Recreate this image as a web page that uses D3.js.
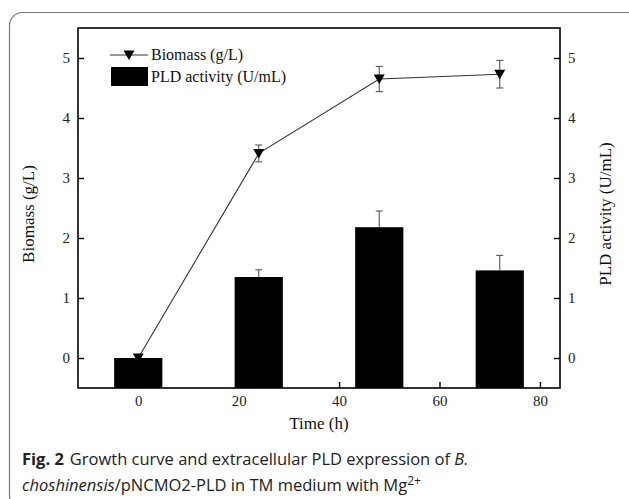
<!DOCTYPE html>
<html>
<head>
<meta charset="utf-8">
<script src="https://cdn.jsdelivr.net/npm/d3@7"></script>
<style>
  body { margin: 0; background: #fff; }
  svg { display: block; }
  .tick text { font-family: "Liberation Serif", "Times New Roman", serif; font-size: 15px; fill: #222; }
</style>
</head>
<body>
<div id="svg-container"></div>
<script>
// data
const times = [0, 24, 48, 72];
const biomass = [0, 3.41, 4.65, 4.73];
const biomassErr = [0, 0.14, 0.21, 0.23];
const pld = [0, 1.35, 2.18, 1.46];
const pldErr = [0, 0.12, 0.27, 0.25];
const xTicks = [0, 20, 40, 60, 80];
const yTicks = [0, 1, 2, 3, 4, 5];

const width = 629, height = 499;
const margin = { top: 28, right: 69, bottom: 111, left: 78 };
const serif = "'Liberation Serif', 'Times New Roman', serif";

const svg = d3.select("#svg-container").append("svg")
  .attr("width", width).attr("height", height);

// card border
svg.append("rect")
  .attr("x", 9.5).attr("y", 12.5)
  .attr("width", 632).attr("height", 496).attr("rx", 13)
  .attr("fill", "none").attr("stroke", "#777").attr("stroke-width", 1.2);

// scales
const x = d3.scaleLinear().domain([-12, 84]).range([margin.left, width - margin.right]);
const y = d3.scaleLinear().domain([-0.5, 5.5]).range([height - margin.bottom, margin.top]);

const data = times.map((t, i) => ({ t, b: biomass[i], be: biomassErr[i], p: pld[i], pe: pldErr[i] }));

// bars
const barHalf = 4.8;
svg.append("g").selectAll("rect").data(data).join("rect")
  .attr("x", d => x(d.t - barHalf))
  .attr("width", d => x(d.t + barHalf) - x(d.t - barHalf))
  .attr("y", d => y(d.p))
  .attr("height", d => y(-0.5) - y(d.p))
  .attr("fill", "#000");

// bar error bars (upward)
const capW = 3.5;
const barErr = svg.append("g").attr("stroke", "#555").attr("stroke-width", 1.1);
data.filter(d => d.pe > 0).forEach(d => {
  barErr.append("line").attr("x1", x(d.t)).attr("x2", x(d.t)).attr("y1", y(d.p)).attr("y2", y(d.p + d.pe));
  barErr.append("line").attr("x1", x(d.t) - capW).attr("x2", x(d.t) + capW).attr("y1", y(d.p + d.pe)).attr("y2", y(d.p + d.pe));
});

// biomass line
const line = d3.line().x(d => x(d.t)).y(d => y(d.b));
svg.append("path").datum(data).attr("d", line)
  .attr("fill", "none").attr("stroke", "#333").attr("stroke-width", 1.1);

// biomass error bars
const linErr = svg.append("g").attr("stroke", "#555").attr("stroke-width", 1.1);
data.filter(d => d.be > 0).forEach(d => {
  linErr.append("line").attr("x1", x(d.t)).attr("x2", x(d.t)).attr("y1", y(d.b - d.be)).attr("y2", y(d.b + d.be));
  [d.b - d.be, d.b + d.be].forEach(v =>
    linErr.append("line").attr("x1", x(d.t) - capW).attr("x2", x(d.t) + capW).attr("y1", y(v)).attr("y2", y(v)));
});

// markers (down triangle)
const tri = "M-5.5,-4.5 L5.5,-4.5 L0,5 Z";
svg.append("g").selectAll("path").data(data).join("path")
  .attr("transform", d => `translate(${x(d.t)},${y(d.b)})`)
  .attr("d", tri).attr("fill", "#000");

// axes
const x0 = margin.left, x1 = width - margin.right, y0 = height - margin.bottom, y1 = margin.top;
const fmt = d3.format("d");

svg.append("g").attr("transform", `translate(0,${y0})`)
  .call(d3.axisBottom(x).tickValues(xTicks).tickFormat(fmt).tickSizeInner(-6).tickSizeOuter(0).tickPadding(7))
  .call(g => g.select(".domain").remove())
  .call(g => g.selectAll("line").attr("stroke", "#000").attr("stroke-width", 1.4));

svg.append("g").attr("transform", `translate(${x0},0)`)
  .call(d3.axisLeft(y).tickValues(yTicks).tickFormat(fmt).tickSizeInner(-6).tickSizeOuter(0).tickPadding(8))
  .call(g => g.select(".domain").remove())
  .call(g => g.selectAll("line").attr("stroke", "#000").attr("stroke-width", 1.4));

svg.append("g").attr("transform", `translate(${x1},0)`)
  .call(d3.axisRight(y).tickValues(yTicks).tickFormat(fmt).tickSizeInner(-6).tickSizeOuter(0).tickPadding(8))
  .call(g => g.select(".domain").remove())
  .call(g => g.selectAll("line").attr("stroke", "#000").attr("stroke-width", 1.4));

// frame
svg.append("rect")
  .attr("x", x0).attr("y", y1).attr("width", x1 - x0).attr("height", y0 - y1)
  .attr("fill", "none").attr("stroke", "#000").attr("stroke-width", 1.6);

// axis titles
svg.append("text")
  .attr("transform", `translate(34,${(y0 + y1) / 2 + 6}) rotate(-90)`)
  .attr("text-anchor", "middle").attr("font-family", serif).attr("font-size", 17).attr("fill", "#111")
  .text("Biomass (g/L)");
svg.append("text")
  .attr("transform", `translate(611,${(y0 + y1) / 2 + 6}) rotate(-90)`)
  .attr("text-anchor", "middle").attr("font-family", serif).attr("font-size", 17).attr("fill", "#111")
  .text("PLD activity (U/mL)");
svg.append("text")
  .attr("x", (x0 + x1) / 2).attr("y", 429)
  .attr("text-anchor", "middle").attr("font-family", serif).attr("font-size", 17).attr("fill", "#111")
  .text("Time (h)");

// legend
const leg = svg.append("g");
leg.append("line").attr("x1", 110).attr("x2", 148).attr("y1", 55).attr("y2", 55)
  .attr("stroke", "#333").attr("stroke-width", 1.1);
leg.append("path").attr("transform", "translate(129,55)").attr("d", tri).attr("fill", "#000");
leg.append("text").attr("x", 151).attr("y", 60)
  .attr("font-family", serif).attr("font-size", 16).attr("fill", "#111").text("Biomass (g/L)");
leg.append("rect").attr("x", 111).attr("y", 67).attr("width", 37).attr("height", 19).attr("fill", "#000");
leg.append("text").attr("x", 151).attr("y", 82)
  .attr("font-family", serif).attr("font-size", 16).attr("fill", "#111").text("PLD activity (U/mL)");

// caption
const sans = "'Open Sans', 'Noto Sans', sans-serif";
const cap1 = svg.append("text").attr("x", 22).attr("y", 465)
  .attr("font-family", sans).attr("font-size", 16.5).attr("fill", "#222");
cap1.append("tspan").attr("font-weight", "bold").text("Fig. 2");
cap1.append("tspan").attr("dx", 6).text("Growth curve and extracellular PLD expression of ");
cap1.append("tspan").attr("font-style", "italic").text("B.");

const cap2 = svg.append("text").attr("x", 22).attr("y", 491)
  .attr("font-family", sans).attr("font-size", 16.5).attr("fill", "#222");
cap2.append("tspan").attr("font-style", "italic").text("choshinensis");
cap2.append("tspan").text("/pNCMO2-PLD in TM medium with Mg");
cap2.append("tspan").attr("font-size", 12).attr("dy", -6).text("2+");
</script>
</body>
</html>
